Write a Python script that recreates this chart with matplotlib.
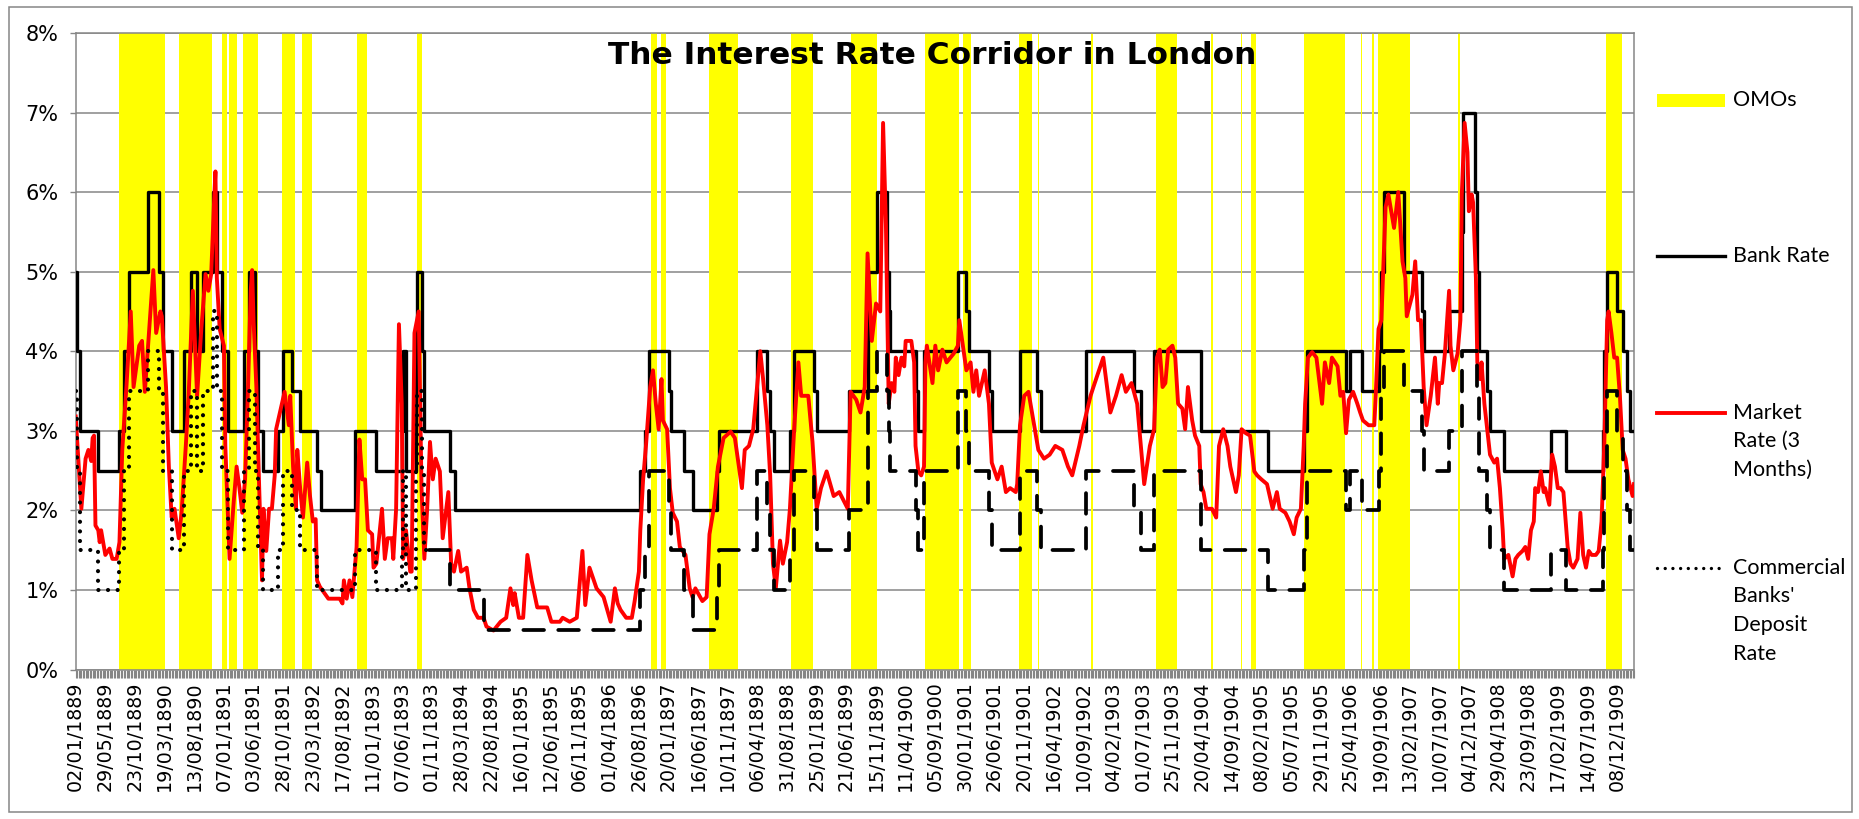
import matplotlib.pyplot as plt
import numpy as np
import pandas as pd
from matplotlib.lines import Line2D
from matplotlib.patches import Rectangle
from matplotlib.ticker import PercentFormatter

# weekly observations (Wednesdays) starting 02/01/1889, x = week number
start_date = "1889-01-02"
n_weeks = 1105

# Bank Rate: week of change, new rate (%)
bank_weeks = [0, 1, 3, 16, 31, 34, 38, 51, 59, 62, 68, 77, 82, 86, 90, 97, 100, 104, 108, 119,
              123, 127, 129, 133, 143, 147, 153, 159, 171, 174, 198, 213, 231, 232, 234, 241, 242, 245, 247, 265,
              269, 400, 403, 406, 420, 422, 431, 437, 454, 456, 483, 490, 492, 495, 506, 509, 523, 525, 548, 561,
              568, 575, 576, 577, 595, 597, 601, 625, 631, 633, 647, 649, 669, 681, 684, 716, 750, 755, 764, 797,
              845, 870, 872, 900, 903, 911, 923, 925, 927, 941, 954, 955, 973, 982, 983, 991, 993, 994, 1000, 1002,
              1012, 1045, 1056, 1082, 1083, 1085, 1092, 1096, 1099, 1101]
bank_rate = [5, 4, 3, 2.5, 3, 4, 5, 6, 5, 4, 3, 4, 5, 4, 5, 6, 5, 4, 3, 4,
             5, 4, 3, 2.5, 3, 4, 3.5, 3, 2.5, 2, 3, 2.5, 3, 4, 2.5, 4, 5, 4, 3, 2.5,
             2, 2.5, 3, 4, 3.5, 3, 2.5, 2, 2.5, 3, 4, 3.5, 3, 2.5, 3, 4, 3.5, 3, 3.5, 5,
             6, 5, 4.5, 4, 3.5, 3, 4, 5, 4.5, 4, 3.5, 3, 4, 3.5, 3, 4, 3.5, 3, 4, 3,
             2.5, 3, 4, 3.5, 4, 3.5, 4, 5, 6, 5, 4.5, 4, 4.5, 5.5, 7, 6, 5, 4, 3.5, 3,
             2.5, 3, 2.5, 3, 4, 5, 4.5, 4, 3.5, 3]

# Commercial banks' deposit rate: week of change, new rate (%)
dep_weeks = [0, 1, 3, 16, 31, 34, 38, 51, 59, 62, 68, 77, 82, 86, 90, 97, 100, 104, 108, 119,
             123, 127, 129, 133, 143, 147, 153, 159, 171, 198, 213, 231, 232, 234, 241, 242, 245, 247, 265, 289,
             400, 403, 406, 420, 422, 431, 437, 454, 456, 483, 490, 492, 495, 506, 509, 523, 525, 548, 561, 568,
             575, 576, 577, 595, 597, 601, 625, 631, 633, 647, 649, 669, 681, 684, 716, 750, 755, 764, 797, 845,
             870, 872, 900, 903, 911, 923, 925, 927, 941, 954, 955, 973, 982, 993, 994, 1000, 1002, 1012, 1045, 1056,
             1082, 1083, 1085, 1092, 1096, 1099, 1101]
dep_rate = [3.5, 2.5, 1.5, 1.0, 1.5, 2.5, 3.5, 4.0, 3.5, 2.5, 1.5, 2.5, 3.5, 2.5, 3.5, 4.5, 3.5, 2.5, 1.5, 2.5,
            3.5, 2.5, 1.5, 1.0, 1.5, 2.5, 2.0, 1.5, 1.0, 1.5, 1.0, 1.5, 2.5, 1.0, 2.5, 3.5, 2.5, 1.5, 1.0, 0.5,
            1.0, 1.5, 2.5, 2.0, 1.5, 1.0, 0.5, 1.0, 1.5, 2.5, 2.0, 1.5, 1.0, 1.5, 2.5, 2.0, 1.5, 2.0, 3.5, 4.0,
            3.5, 3.0, 2.5, 2.0, 1.5, 2.5, 3.5, 3.0, 2.5, 2.0, 1.5, 2.5, 2.0, 1.5, 2.5, 2.0, 1.5, 2.5, 1.5, 1.0,
            1.5, 2.5, 2.0, 2.5, 2.0, 2.5, 3.5, 4.0, 3.5, 3.0, 2.5, 3.0, 4.0, 3.5, 2.5, 2.0, 1.5, 1.0, 1.5, 1.0,
            1.5, 2.5, 3.5, 3.0, 2.5, 2.0, 1.5]
dep_dotted_until = 250  # early part of the series is drawn dotted, the rest dashed

# Market rate (3 months): week, rate (%)
mkt_weeks = [0, 4, 7, 9, 11, 12, 13, 14, 16, 17, 18, 21, 24, 26, 29, 31, 33, 36, 39, 41,
             45, 47, 49, 55, 57, 60, 61, 64, 66, 68, 70, 73, 75, 78, 80, 83, 85, 86, 89, 92,
             94, 96, 98, 99, 100, 102, 105, 106, 109, 112, 114, 116, 118, 120, 122, 124, 125, 126, 128, 130,
             132, 133, 135, 137, 139, 141, 142, 148, 151, 152, 154, 156, 157, 159, 161, 164, 166, 168, 170, 171,
             173, 175, 179, 187, 189, 190, 192, 194, 196, 199, 201, 203, 205, 207, 210, 211, 213, 217, 219, 221,
             224, 225, 227, 229, 231, 232, 234, 237, 238, 240, 243, 245, 247, 249, 251, 253, 255, 258, 260, 264,
             266, 268, 271, 273, 277, 279, 282, 285, 289, 291, 296, 301, 305, 308, 310, 311, 314, 317, 320, 323,
             327, 334, 337, 343, 345, 350, 355, 359, 361, 364, 369, 374, 379, 382, 384, 386, 390, 394, 396, 399,
             400, 402, 404, 407, 409, 411, 413, 415, 416, 419, 421, 423, 426, 428, 432, 435, 437, 439, 444, 447,
             449, 452, 455, 459, 464, 467, 472, 474, 477, 480, 485, 487, 490, 492, 494, 496, 499, 501, 504, 506,
             509, 512, 514, 519, 522, 525, 528, 532, 537, 541, 547, 549, 553, 556, 559, 561, 564, 567, 570, 572,
             574, 576, 578, 580, 581, 583, 585, 587, 588, 592, 594, 595, 597, 599, 601, 602, 603, 607, 609, 611,
             614, 617, 622, 625, 626, 631, 634, 636, 638, 640, 644, 647, 649, 653, 656, 659, 662, 666, 667, 669,
             672, 675, 679, 682, 686, 690, 694, 699, 703, 706, 711, 714, 719, 721, 728, 733, 737, 741, 744, 748,
             752, 757, 761, 764, 766, 768, 770, 772, 774, 777, 779, 781, 784, 786, 788, 791, 793, 796, 797, 799,
             801, 805, 808, 810, 813, 816, 818, 822, 824, 826, 829, 832, 835, 837, 840, 844, 848, 851, 853, 857,
             860, 863, 865, 868, 870, 871, 873, 876, 879, 883, 885, 888, 890, 894, 896, 898, 900, 902, 905, 908,
             910, 912, 916, 920, 921, 923, 925, 928, 930, 934, 937, 940, 942, 943, 947, 949, 951, 953, 955, 957,
             960, 962, 963, 965, 966, 968, 970, 973, 974, 976, 979, 981, 982, 984, 986, 987, 989, 990, 992, 993,
             995, 996, 998, 1000, 1002, 1005, 1007, 1009, 1011, 1012, 1015, 1018, 1020, 1022, 1025, 1027, 1029, 1031, 1033, 1034,
             1036, 1038, 1040, 1041, 1044, 1046, 1048, 1050, 1052, 1054, 1057, 1059, 1061, 1064, 1066, 1068, 1070, 1072, 1074, 1077,
             1079, 1081, 1083, 1085, 1086, 1088, 1090, 1092, 1094, 1096, 1098, 1100, 1103, 1104]
mkt_rate = [3.18, 2.02, 2.65, 2.76, 2.62, 2.91, 2.94, 1.81, 1.75, 1.60, 1.75, 1.44, 1.52, 1.39, 1.39, 1.60, 2.76, 3.57, 4.50, 3.55,
            4.07, 4.13, 3.49, 5.02, 4.23, 4.50, 4.44, 3.55, 2.55, 1.91, 2.02, 1.65, 1.97, 2.81, 3.44, 4.76, 3.86, 3.44, 4.28, 4.97,
            4.76, 4.97, 5.87, 6.26, 4.92, 4.28, 4.07, 2.81, 1.39, 2.12, 2.55, 2.28, 1.97, 2.39, 3.49, 4.76, 5.02, 4.39, 3.55, 2.28,
            1.12, 2.02, 1.49, 2.02, 2.02, 2.44, 3.02, 3.49, 3.07, 3.44, 2.55, 2.02, 2.76, 2.28, 1.91, 2.60, 2.18, 1.86, 1.89, 1.12,
            1.04, 0.99, 0.89, 0.89, 0.83, 1.12, 0.89, 1.12, 0.91, 1.54, 2.89, 2.39, 2.39, 1.75, 1.70, 1.28, 1.33, 2.02, 1.39, 1.65,
            1.65, 1.39, 2.02, 4.34, 3.34, 1.39, 1.75, 1.23, 1.23, 4.23, 4.50, 2.28, 1.39, 2.02, 2.86, 2.39, 2.65, 2.49, 1.65, 2.23,
            1.33, 1.23, 1.49, 1.23, 1.28, 1.02, 0.75, 0.65, 0.65, 0.54, 0.49, 0.60, 0.65, 1.02, 0.81, 0.96, 0.65, 0.65, 1.44, 1.12,
            0.78, 0.78, 0.60, 0.60, 0.65, 0.60, 0.65, 1.49, 0.81, 1.28, 1.02, 0.91, 0.60, 1.02, 0.83, 0.75, 0.65, 0.65, 0.86, 1.23,
            1.75, 2.39, 2.81, 3.55, 3.76, 3.34, 3.02, 3.65, 3.13, 3.02, 2.28, 1.97, 1.86, 1.54, 1.44, 1.02, 0.91, 1.02, 0.86, 0.91,
            1.70, 2.02, 2.55, 2.91, 2.99, 2.91, 2.28, 2.76, 2.81, 3.02, 4.00, 3.65, 3.07, 2.44, 1.33, 1.02, 1.62, 1.33, 1.60, 2.02,
            3.02, 3.86, 3.44, 3.44, 2.86, 2.02, 2.28, 2.49, 2.18, 2.23, 2.02, 3.49, 3.39, 3.23, 3.55, 5.23, 4.13, 4.60, 4.50, 6.87,
            5.60, 3.34, 3.60, 3.49, 3.92, 3.70, 3.92, 3.81, 4.13, 4.13, 3.86, 2.81, 2.49, 2.44, 2.55, 3.86, 4.07, 3.60, 4.07, 3.76,
            4.02, 3.86, 3.97, 4.07, 4.39, 3.76, 3.86, 3.49, 3.76, 3.44, 3.76, 3.34, 2.60, 2.39, 2.55, 2.23, 2.28, 2.23, 2.33, 3.07,
            3.44, 3.49, 3.07, 2.76, 2.65, 2.70, 2.81, 2.76, 2.55, 2.44, 2.81, 3.07, 3.44, 3.55, 3.92, 3.23, 3.44, 3.70, 3.49, 3.60,
            3.34, 2.33, 2.81, 3.02, 3.92, 4.02, 3.55, 3.60, 4.02, 4.07, 3.92, 3.34, 3.28, 3.02, 3.55, 3.13, 2.94, 2.81, 2.33, 2.23,
            2.02, 2.02, 1.91, 2.81, 3.02, 2.81, 2.55, 2.23, 2.44, 3.02, 2.97, 2.94, 2.49, 2.44, 2.39, 2.33, 2.02, 2.23, 2.02, 1.97,
            1.86, 1.70, 1.91, 2.02, 2.81, 3.34, 3.92, 3.99, 3.92, 3.34, 3.86, 3.60, 3.92, 3.81, 3.44, 3.49, 2.97, 3.39, 3.49, 3.34,
            3.23, 3.13, 3.07, 3.07, 3.44, 4.28, 4.39, 5.81, 5.97, 5.55, 6.00, 5.13, 4.92, 4.44, 4.71, 5.13, 4.39, 4.39, 3.55, 3.07,
            3.44, 3.76, 3.92, 3.34, 3.60, 3.60, 3.97, 4.76, 4.07, 3.76, 3.97, 4.39, 5.97, 6.87, 6.50, 5.76, 5.97, 5.87, 4.92, 3.86,
            3.65, 3.86, 3.34, 3.02, 2.70, 2.60, 2.65, 2.28, 1.75, 1.39, 1.44, 1.17, 1.39, 1.44, 1.49, 1.54, 1.39, 1.75, 1.86, 2.28,
            2.23, 2.49, 2.23, 2.28, 2.07, 2.70, 2.55, 2.28, 2.28, 2.23, 1.54, 1.33, 1.28, 1.39, 1.97, 1.44, 1.28, 1.49, 1.44, 1.44,
            1.49, 1.86, 2.86, 4.39, 4.50, 4.23, 3.92, 3.92, 3.44, 2.76, 2.65, 2.39, 2.18, 2.33]

# open market operations: first and last week of each episode
omo_start = [31, 74, 104, 109, 119, 147, 161, 200, 242, 408, 415, 449, 507, 550, 602, 629, 669, 682, 720, 766,
             805, 826, 833, 871, 911, 919, 923, 980, 1085]
omo_end = [63, 96, 107, 114, 129, 155, 167, 206, 245, 411, 418, 469, 522, 567, 625, 634, 677, 682, 720, 780,
           805, 826, 836, 899, 911, 919, 945, 980, 1095]

GRID = "#868686"
W, H = 1859, 819

fig = plt.figure(figsize=(W / 100, H / 100), dpi=100)
ax = fig.add_axes([75.7 / W, 1 - 669.5 / H, (1634 - 75.7) / W, (669.5 - 33) / H])

# yellow OMO columns
starts = np.array(omo_start)
ends = np.array(omo_end)
ax.bar(starts - 0.5, 8, width=ends - starts + 1, align="edge", color="#FFFF00", linewidth=0, zorder=1)

# bank rate
bw = np.append(bank_weeks, n_weeks - 1)
bv = np.append(bank_rate, bank_rate[-1])
ax.plot(bw, bv, drawstyle="steps-post", color="black", lw=2.4, zorder=3)

# market rate
ax.plot(mkt_weeks, mkt_rate, color="#FF0000", lw=2.8, zorder=4, solid_joinstyle="round")

# deposit rate: dotted early on, dashed afterwards
dw = np.append(dep_weeks, n_weeks - 1)
dv = np.append(dep_rate, dep_rate[-1])
k = np.searchsorted(dw, dep_dotted_until, side="right")
v_split = dv[k - 1]
w1 = np.append(dw[:k], dep_dotted_until)
v1 = np.append(dv[:k], v_split)
w2 = np.insert(dw[k:], 0, dep_dotted_until)
v2 = np.insert(dv[k:], 0, v_split)
ax.plot(w1, v1, drawstyle="steps-post", color="black", lw=3.0, zorder=5,
        linestyle=(0, (0.01, 2.3)), dash_capstyle="round")
ax.plot(w2, v2, drawstyle="steps-post", color="black", lw=2.7, zorder=5,
        linestyle=(0, (5.5, 3.8)), dash_capstyle="round")

ax.set_xlim(0, n_weeks - 1)
ax.set_ylim(0, 8)
ax.set_yticks(range(0, 9))
ax.yaxis.set_major_formatter(PercentFormatter(decimals=0))
ax.yaxis.grid(True, color=GRID, lw=1.1)
ax.set_axisbelow(True)

dates = pd.date_range(start_date, periods=n_weeks, freq="7D")
tick_pos = np.arange(0, n_weeks, 21)
ax.set_xticks(tick_pos)
ax.set_xticklabels(dates[tick_pos].strftime("%d/%m/%Y"), rotation=90)
ax.set_xticks(np.arange(n_weeks), minor=True)
ax.tick_params(axis="x", which="both", length=5.5, width=0.8, color=GRID, labelsize=13.7, pad=3)
ax.tick_params(axis="y", length=4.5, width=1, color=GRID, labelsize=15, pad=8)
for s in ax.spines.values():
    s.set_color(GRID)
    s.set_linewidth(1.1)

fig.text(932 / W, 1 - 56 / H, "The Interest Rate Corridor in London", ha="center", va="center",
         fontsize=22.5, fontweight="bold", family="DejaVu Sans")


# legend drawn by hand on the right
def fx(x):
    return x / W


def fy(y):
    return 1 - y / H


lx0, lx1, tx = 1657, 1725, 1733
fig.add_artist(Rectangle((fx(lx0), fy(107)), fx(lx1) - fx(lx0), fy(94) - fy(107),
                         transform=fig.transFigure, color="#FFFF00", lw=0))
fig.add_artist(Line2D([fx(lx0), fx(lx1)], [fy(256), fy(256)], transform=fig.transFigure, color="black", lw=2.4))
fig.add_artist(Line2D([fx(lx0), fx(lx1)], [fy(412.6), fy(412.6)], transform=fig.transFigure, color="#FF0000", lw=2.8))
fig.add_artist(Line2D([fx(lx0), fx(lx1)], [fy(568), fy(568)], transform=fig.transFigure, color="black", lw=2.4,
                      linestyle=(0, (0.01, 2.3)), dash_capstyle="round"))

legend_rows = [(100, ["OMOs"]), (256, ["Bank Rate"]), (412.6, ["Market", "Rate (3", "Months)"]),
               (568, ["Commercial", "Banks'", "Deposit", "Rate"])]
for y0, lines in legend_rows:
    for i, t in enumerate(lines):
        fig.text(fx(tx), fy(y0 + i * 28.5), t, ha="left", va="center", fontsize=15.5, family="Lato")

# chart border
fig.add_artist(Rectangle((fx(9), fy(812)), fx(1852) - fx(9), fy(7) - fy(812), transform=fig.transFigure,
                         fill=False, edgecolor=GRID, lw=1.1))

fig.savefig("out.png", dpi=100)
